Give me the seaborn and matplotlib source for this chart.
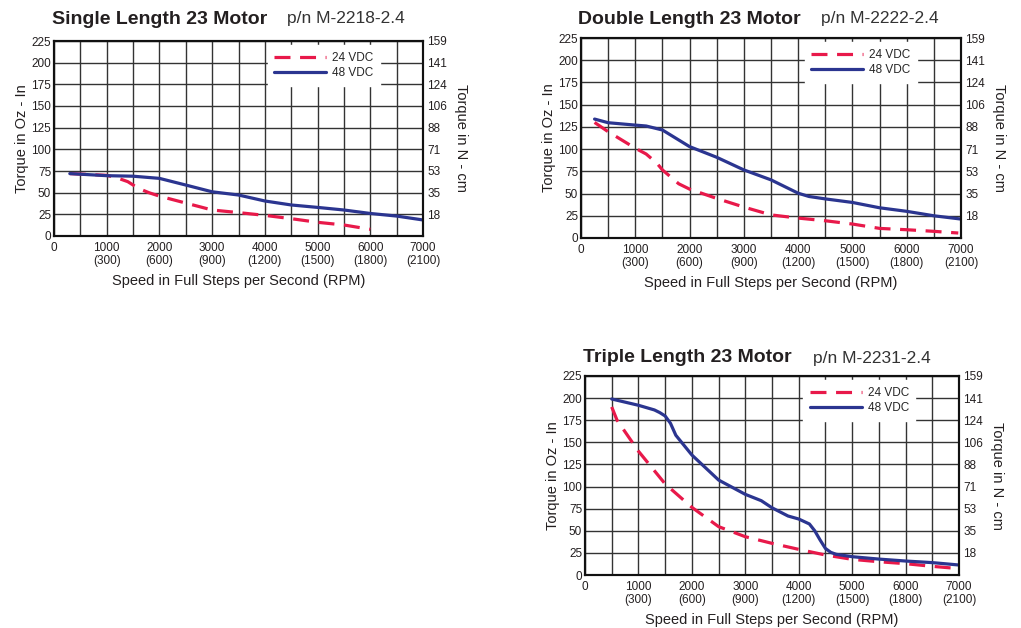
import matplotlib
matplotlib.use("Agg")
import numpy as np
import pandas as pd
import seaborn as sns
import matplotlib.pyplot as plt

# --- data (speed in full steps/s, torque in oz-in) ---
single_24_speed = [300, 1000, 1200, 1400, 1600, 1800, 2000, 2500, 3000, 3500, 4000, 4500, 5000, 5500, 6000]
single_24_torque = [72, 70, 67, 62.7, 55, 50, 46, 38, 30, 27, 23.8, 20, 15.8, 12.7, 7.7]
single_48_speed = [300, 1000, 1500, 2000, 2500, 3000, 3500, 4000, 4500, 5000, 5500, 6000, 6500, 7000]
single_48_torque = [72, 69.6, 69, 66.5, 58.8, 51, 47.3, 40.4, 35.8, 33, 30, 26, 23, 18.5]

double_24_speed = [250, 500, 1000, 1200, 1400, 1500, 1800, 2000, 2500, 3000, 3500, 4000, 4500, 5000, 5500, 6000, 6500, 6950]
double_24_torque = [130, 119.6, 101, 94.5, 84, 76.6, 61, 55, 44.5, 34.8, 26, 22.4, 19.4, 15.7, 10.8, 9.3, 7.5, 5.6]
double_48_speed = [250, 500, 1000, 1200, 1500, 2000, 2500, 3000, 3500, 4000, 4200, 4500, 5000, 5500, 6000, 6500, 7000]
double_48_torque = [133.8, 129.7, 127, 126, 121.5, 102.8, 90.8, 76.6, 65.4, 50.4, 46.7, 44, 40, 34, 30, 25, 21.3]

triple_24_speed = [500, 600, 1000, 1500, 2000, 2500, 3000, 3500, 4000, 4500, 5000, 5500, 6000, 6500, 7000]
triple_24_torque = [190, 175, 140, 103, 76.5, 54.7, 43.3, 35.8, 29, 22.6, 17.7, 15, 12.8, 9.8, 7.2]
triple_48_speed = [500, 1000, 1300, 1400, 1500, 1600, 1700, 2000, 2500, 3000, 3300, 3500, 3800, 4000, 4200,
                   4300, 4400, 4500, 4600, 4700, 5000, 5500, 6000, 6500, 7000]
triple_48_torque = [199, 191.9, 186.6, 183.6, 179.8, 171.5, 158, 135.7, 107.4, 91.2, 84, 76, 66.7, 63.3, 57.7,
                    50, 39.6, 30, 25.6, 23.4, 20.7, 18, 15.8, 14, 11.3]

supplies = ["24 VDC", "48 VDC"]
oz_ticks = [0, 25, 50, 75, 100, 125, 150, 175, 200, 225]
ncm_labels = ["18", "35", "53", "71", "88", "106", "124", "141", "159"]
x_ticks = [0, 1000, 2000, 3000, 4000, 5000, 6000, 7000]
x_tick_labels = ["0", "1000\n(300)", "2000\n(600)", "3000\n(900)", "4000\n(1200)",
                 "5000\n(1500)", "6000\n(1800)", "7000\n(2100)"]

titles = ["Single Length 23 Motor", "Double Length 23 Motor", "Triple Length 23 Motor"]
part_numbers = ["p/n M-2218-2.4", "p/n M-2222-2.4", "p/n M-2231-2.4"]

RED = "#e8194a"
BLUE = "#2b3590"
INK = "#231f20"

sns.set_theme(style="white")
plt.rcParams["font.family"] = ["Liberation Sans", "DejaVu Sans"]


def motor_frame(s24, t24, s48, t48):
    return pd.concat([
        pd.DataFrame({"speed": s24, "torque": t24, "supply": supplies[0]}),
        pd.DataFrame({"speed": s48, "torque": t48, "supply": supplies[1]}),
    ], ignore_index=True)


frames = [
    motor_frame(single_24_speed, single_24_torque, single_48_speed, single_48_torque),
    motor_frame(double_24_speed, double_24_torque, double_48_speed, double_48_torque),
    motor_frame(triple_24_speed, triple_24_torque, triple_48_speed, triple_48_torque),
]

W, H = 1021, 628
# axes boxes in pixels: left, top, right, bottom
boxes = [(54, 41, 423, 236), (581, 38, 961, 238), (585, 376, 959, 575)]
# title positions in pixels: title left, p/n left, vertical centre
title_pos = [(52, 287, 19), (578, 821, 19), (583, 813, 358)]

fig = plt.figure(figsize=(W / 100, H / 100), dpi=100)

for df, box, tpos, title, pn in zip(frames, boxes, title_pos, titles, part_numbers):
    l, t, r, b = box
    ax = fig.add_axes([l / W, 1 - b / H, (r - l) / W, (b - t) / H])
    ax.set_axisbelow(True)

    sns.lineplot(data=df, x="speed", y="torque", hue="supply", style="supply",
                 palette={supplies[0]: RED, supplies[1]: BLUE},
                 dashes={supplies[0]: (5, 3), supplies[1]: ""},
                 linewidth=2.3, estimator=None, sort=False, legend=False, ax=ax)

    ax.set_xlim(0, 7000)
    ax.set_ylim(0, 225)
    ax.set_xticks(x_ticks)
    ax.set_xticks(np.arange(500, 7000, 1000), minor=True)
    ax.set_xticklabels(x_tick_labels, fontsize=8.5, color=INK, linespacing=1.15)
    ax.set_yticks(oz_ticks)
    ax.set_yticklabels([str(v) for v in oz_ticks], fontsize=8.5, color=INK)
    ax.tick_params(axis="x", which="both", length=0, pad=4)
    ax.tick_params(axis="y", which="both", length=0, pad=2)
    ax.grid(which="both", color="#333333", linewidth=1.0)
    for s in ax.spines.values():
        s.set_color("#111111")
        s.set_linewidth(1.5)

    ax.set_xlabel("Speed in Full Steps per Second (RPM)", fontsize=10.5, color=INK, labelpad=5)
    ax.set_ylabel("Torque in Oz - In", fontsize=10.5, color=INK, labelpad=2)

    ax.legend(ax.lines[:2], supplies, loc="upper right", bbox_to_anchor=(0.89, 0.99),
              frameon=True, facecolor="white", edgecolor="white", framealpha=1,
              fontsize=8.5, handlelength=4.4, handletextpad=0.5, labelspacing=0.3,
              borderaxespad=0.2, borderpad=0.55, fancybox=False)

    ax2 = ax.twinx()
    ax2.set_ylim(0, 225)
    ax2.set_yticks(oz_ticks[1:])
    ax2.set_yticklabels(ncm_labels, fontsize=8.5, color=INK)
    ax2.tick_params(axis="y", length=0, pad=3)
    ax2.set_ylabel("Torque in N - cm", fontsize=10.5, color=INK, rotation=-90, labelpad=15)
    ax2.grid(False)
    for s in ax2.spines.values():
        s.set_color("#111111")
        s.set_linewidth(1.5)

    tx, px, ty = tpos
    fig.text(tx / W, 1 - ty / H, title, fontsize=14, fontweight="bold", color=INK,
             ha="left", va="center")
    fig.text(px / W, 1 - ty / H, pn, fontsize=12.5, color="#333333", ha="left", va="center")

fig.savefig("out.png", dpi=100)
